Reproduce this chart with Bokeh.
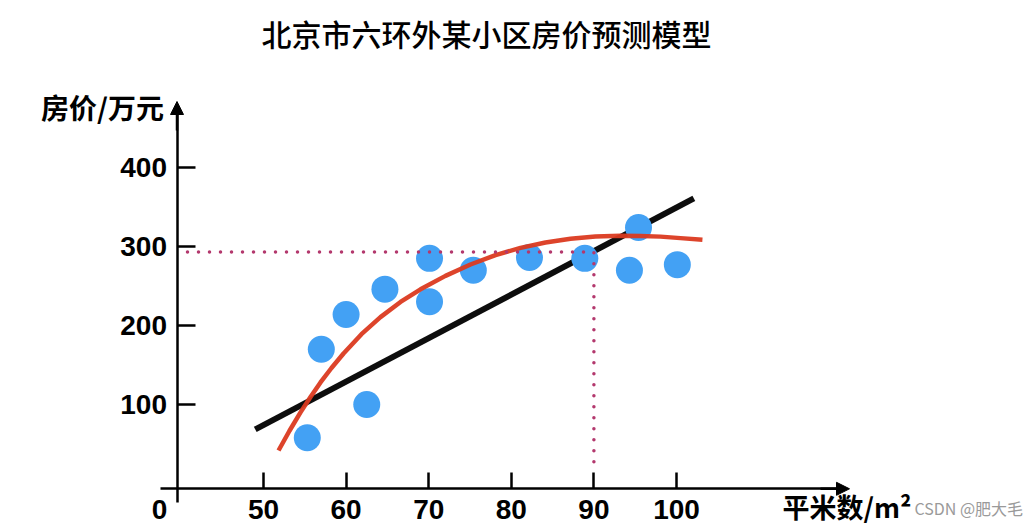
from bokeh.plotting import figure
from bokeh.models import Range1d, LinearAxis, FixedTicker, Arrow, NormalHead, Label
from bokeh.embed import file_html
from bokeh.resources import INLINE

# ---------------- data ----------------
area = [55.3, 57.0, 60.0, 62.5, 64.7, 70.1, 70.1, 75.4, 82.2, 88.9, 94.3, 95.4, 100.1]
price = [58, 170, 214, 100, 246, 285, 230, 270, 286, 285, 270, 324, 277]

linear_x = [49.0, 102.1]
linear_y = [68.4, 360.8]

curve_x = [51.82, 53.15, 54.48, 55.69, 56.90, 58.23, 59.69, 61.86, 64.16, 66.59, 69.01, 72.03,
           75.06, 78.09, 81.11, 84.14, 87.17, 90.19, 93.22, 95.64, 98.06, 100.48, 103.14]
curve_y = [41.8, 66.8, 90.0, 109.6, 127.9, 146.2, 164.6, 189.0, 210.6, 229.8, 245.8, 262.8,
           277.2, 289.1, 298.2, 305.1, 309.8, 312.7, 313.5, 313.3, 312.5, 310.6, 308.4]

pred_x = 90
pred_y = 293

x_ticks = [50, 60, 70, 80, 90, 100]
y_ticks = [100, 200, 300, 400]

title_text = "北京市六环外某小区房价预测模型"
y_label = "房价/万元"
x_label = "平米数/m²"
watermark = "CSDN @肥大毛"

# ---------------- layout helpers (pixel -> data) ----------------
W, H = 1031, 525


def X(px):
    return 50 + (px - 263) / 8.26


def Y(py):
    return 100 + (404 - py) / 0.79


p = figure(width=W, height=H, x_range=Range1d(X(0), X(W)), y_range=Range1d(Y(H), Y(0)),
           x_axis_type=None, y_axis_type=None, min_border=0,
           toolbar_location=None, output_backend="svg")
p.outline_line_color = None
p.background_fill_color = "white"
p.border_fill_color = "white"

num_font = "Liberation Sans"
cjk_font = "Noto Sans CJK SC"
title_font = "'Noto Sans CJK SC Medium', 'Noto Sans CJK SC'"

xaxis = LinearAxis(fixed_location=Y(488.3), bounds=(X(160), X(840)),
                   ticker=FixedTicker(ticks=x_ticks, minor_ticks=[]),
                   major_tick_in=16, major_tick_out=0,
                   minor_tick_in=0, minor_tick_out=0,
                   axis_line_width=2.5, major_tick_line_width=2.5,
                   major_label_text_font=num_font, major_label_text_font_style="bold",
                   major_label_text_font_size="28px", major_label_standoff=11,
                   major_label_text_color="black")
p.add_layout(xaxis, "below")

yaxis = LinearAxis(fixed_location=X(176.5), bounds=(Y(502), Y(112)),
                   ticker=FixedTicker(ticks=y_ticks, minor_ticks=[]),
                   major_tick_in=18, major_tick_out=0,
                   minor_tick_in=0, minor_tick_out=0,
                   axis_line_width=2.5, major_tick_line_width=2.5,
                   major_label_text_font=num_font, major_label_text_font_style="bold",
                   major_label_text_font_size="28px", major_label_standoff=10,
                   major_label_text_color="black")
p.add_layout(yaxis, "left")

p.add_layout(Arrow(end=NormalHead(size=13, fill_color="black", line_color="black", line_width=1),
                   x_start=X(820), y_start=Y(488.3), x_end=X(849), y_end=Y(488.3),
                   line_width=2.5, line_color="black"))
p.add_layout(Arrow(end=NormalHead(size=13, fill_color="black", line_color="black", line_width=1),
                   x_start=X(176.5), y_start=Y(130), x_end=X(176.5), y_end=Y(101),
                   line_width=2.5, line_color="black"))

# linear fit
p.line(linear_x, linear_y, line_color="black", line_width=6, line_alpha=0.95)
# observations
p.scatter(area, price, size=27, fill_color="#43A1F4", line_color=None)
# polynomial fit
p.line(curve_x, curve_y, line_color="#DB3A20", line_width=4.5, line_alpha=0.95,
       line_join="round")
# prediction guide
p.line([X(187), pred_x, pred_x], [pred_y, pred_y, Y(470)], line_color="#B3386D",
       line_width=3.5, line_dash="0 11", line_cap="round")

# texts
p.add_layout(Label(x=X(486), y=Y(32), text=title_text, text_align="center", text_baseline="middle",
                   text_font=title_font, text_font_size="30px", text_color="black"))
p.add_layout(Label(x=X(102), y=Y(106), text=y_label, text_align="center", text_baseline="middle",
                   text_font=cjk_font, text_font_style="bold", text_font_size="28px", text_color="black"))
p.add_layout(Label(x=X(782), y=Y(506), text=x_label, text_align="left", text_baseline="middle",
                   text_font=cjk_font, text_font_style="bold", text_font_size="27px", text_color="black"))
p.add_layout(Label(x=X(914), y=Y(507), text=watermark, text_align="left", text_baseline="middle",
                   text_font=cjk_font, text_font_size="16px", text_color="#9a9a9a"))
p.add_layout(Label(x=X(159), y=Y(509), text="0", text_align="center", text_baseline="middle",
                   text_font=num_font, text_font_style="bold", text_font_size="28px", text_color="black"))

open("out.html", "w").write(file_html(p, INLINE))
